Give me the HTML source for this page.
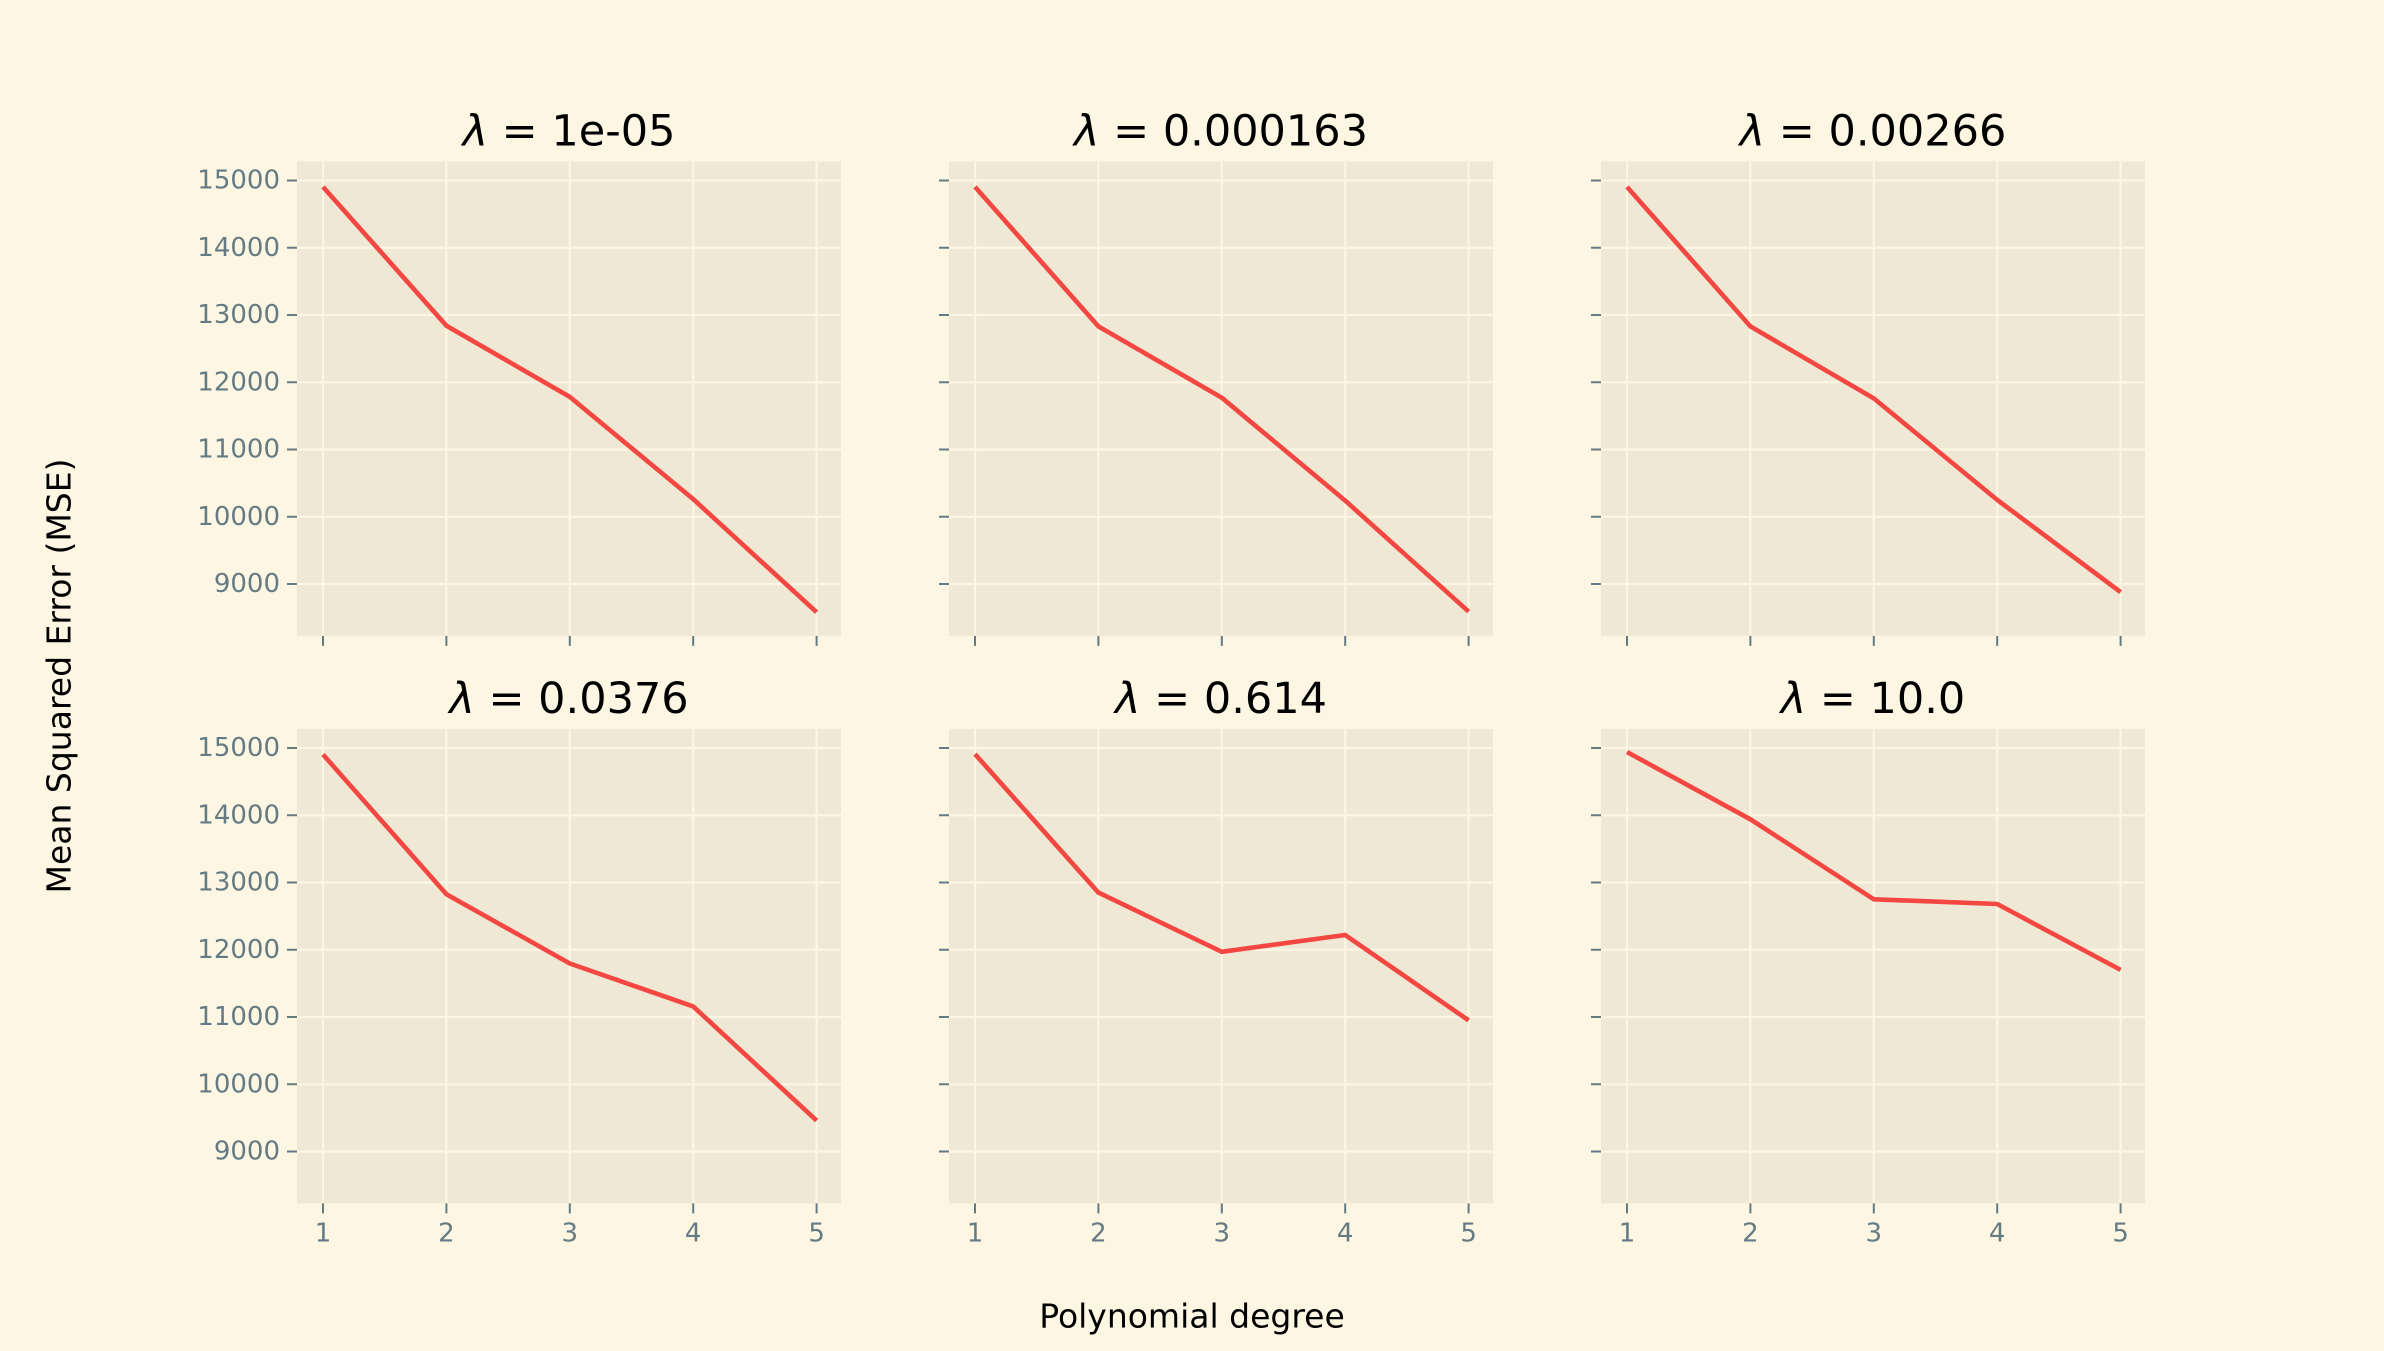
<!DOCTYPE html>
<html><head><meta charset="utf-8"><style>
html,body{margin:0;padding:0;background:#fdf6e3;}
svg{display:block;font-family:"DejaVu Sans","Liberation Sans",sans-serif;}
</style></head><body>
<svg id="chart" width="2384" height="1351" viewBox="0 0 2384 1351" xmlns="http://www.w3.org/2000/svg">
<rect width="2384" height="1351" fill="#fdf6e3"/>
<text x="61" y="676" font-size="33" fill="#000" text-anchor="middle" dominant-baseline="middle" transform="rotate(-90 61 676)">Mean Squared Error (MSE)</text>
<text x="1192" y="1318" font-size="33" fill="#000" text-anchor="middle" dominant-baseline="middle">Polynomial degree</text>
</svg>
<script>
const titles = ["1e-05","0.000163","0.00266","0.0376","0.614","10.0"];
const degrees = [1,2,3,4,5];
const yTicks = [9000,10000,11000,12000,13000,14000,15000];
const mse0 = [14905,12841,11782,10262,8580];
const mse1 = [14905,12830,11770,10240,8590];
const mse2 = [14905,12830,11760,10250,8880];
const mse3 = [14903,12826,11795,11158,9460];
const mse4 = [14910,12850,11970,12220,10950];
const mse5 = [14941,13940,12750,12680,11700];
const series = [mse0,mse1,mse2,mse3,mse4,mse5];

const NS="http://www.w3.org/2000/svg";
const svg=document.getElementById('chart');
const colLeft=[297,949,1601], axW=544;
const rowTop=[161.4,728.9], axH=474.5;
const y15off=19.1, pxPer1000=67.25;
const x1off=26, xStep=123.4;
function mk(tag,attrs,parent){const e=document.createElementNS(NS,tag);for(const k in attrs)e.setAttribute(k,attrs[k]);(parent||svg).appendChild(e);return e;}

series.forEach((vals,i)=>{
  const r=Math.floor(i/3), c=i%3;
  const L=colLeft[c], T=rowTop[r];
  const xs=d=>L+x1off+(d-1)*xStep;
  const ys=v=>T+y15off+(15000-v)/1000*pxPer1000;
  const g=mk('g',{});
  
  
  const bg=mk('rect',{x:L,y:T,width:axW,height:axH,fill:'#eee8d5'},g);
  
  
  yTicks.forEach(v=>{
    const y=ys(v);
    const gl=mk('line',{x1:L,x2:L+axW,y1:y,y2:y,stroke:'#fdf6e3','stroke-width':2.2},g);
    
    
    const tk=mk('line',{x1:L-10,x2:L,y1:y,y2:y,stroke:'#657b83','stroke-width':2},g);
    
    
    if(c===0){
      const t=mk('text',{x:L-17,y:y,'font-size':26,fill:'#657b83','text-anchor':'end','dominant-baseline':'central'},g);
      t.textContent=v;
      
      
    }
  });
  degrees.forEach(d=>{
    const x=xs(d);
    const gl=mk('line',{x1:x,x2:x,y1:T,y2:T+axH,stroke:'#fdf6e3','stroke-width':2.2},g);
    
    
    const tk=mk('line',{x1:x,x2:x,y1:T+axH,y2:T+axH+10,stroke:'#657b83','stroke-width':2},g);
    
    
    if(r===1){
      const t=mk('text',{x:x,y:T+axH+30,'font-size':26,fill:'#657b83','text-anchor':'middle','dominant-baseline':'central'},g);
      t.textContent=d;
      
      
    }
  });
  const pts=vals.map((v,k)=>xs(degrees[k]).toFixed(1)+','+ys(v).toFixed(1)).join(' ');
  const pl=mk('polyline',{points:pts,fill:'none',stroke:'#f44742','stroke-width':4.6,'stroke-linejoin':'round'},g);
  
  
  const tt=mk('text',{x:L+axW/2,y:T-16,'font-size':43,fill:'#000','text-anchor':'middle'},g);
  
  
  const ts=mk('tspan',{'font-style':'italic'},tt);
  ts.textContent='λ';
  tt.appendChild(document.createTextNode(' = '+titles[i]));
});
</script>
</body></html>
